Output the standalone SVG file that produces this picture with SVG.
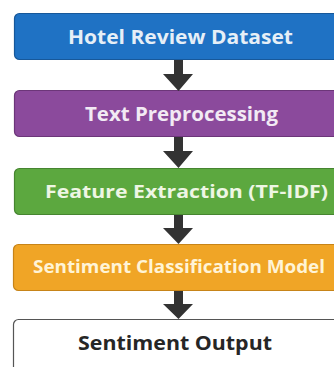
<svg xmlns="http://www.w3.org/2000/svg" width="334" height="367" viewBox="0 0 334 367">
<style>
.box{stroke-width:1.2}
.lbl{font-family:"Open Sans","Noto Sans","DejaVu Sans",sans-serif;font-weight:bold;font-size:19px;fill:#eef3f6}
.arr{fill:#333333}
</style>
<rect x="0" y="0" width="334" height="367" fill="#ffffff"/>
<g id="n1"><rect class="box" x="14.5" y="13.5" width="340" height="46" rx="5" fill="#1f72c4" stroke="#17589a"/><text class="lbl" x="68" y="43.5" textLength="225" lengthAdjust="spacingAndGlyphs" style="fill:#e6eff7">Hotel Review Dataset</text></g>
<g id="n2"><rect class="box" x="14.5" y="90.5" width="340" height="46" rx="5" fill="#8b4a9c" stroke="#6c3679"/><text class="lbl" x="85" y="120.5" textLength="193" lengthAdjust="spacingAndGlyphs" style="fill:#f2eaf4">Text Preprocessing</text></g>
<g id="n3"><rect class="box" x="14.5" y="168.5" width="340" height="46" rx="5" fill="#5ca83f" stroke="#468530"/><text class="lbl" x="45" y="197.5" textLength="283" lengthAdjust="spacingAndGlyphs" style="font-size:18px;fill:#eef6e4">Feature Extraction (TF-IDF)</text></g>
<g id="n4"><rect class="box" x="13.5" y="244.5" width="340" height="46" rx="5" fill="#f0a526" stroke="#c78418"/><text class="lbl" x="33" y="272.5" textLength="292" lengthAdjust="spacingAndGlyphs" style="font-size:17px;fill:#fff4d6">Sentiment Classification Model</text></g>
<g id="n5"><rect class="box" x="13.5" y="319.5" width="340" height="60" rx="5" fill="#ffffff" stroke="#555555"/><text class="lbl" x="78" y="349.5" textLength="194" lengthAdjust="spacingAndGlyphs" style="fill:#262626">Sentiment Output</text></g>
<g id="connectors">
<path class="arr" d="M174 60 H183 V74 H193 L178.5 91 L163 74 H174 Z"/>
<path class="arr" d="M174 137 H183 V151 H193 L178.5 168 L163 151 H174 Z"/>
<path class="arr" d="M174 215 H183 V228 H193 L178.5 244 L163 228 H174 Z"/>
<path class="arr" d="M174 291 H183 V304 H193 L178.5 319 L163 304 H174 Z"/>
</g>
</svg>
